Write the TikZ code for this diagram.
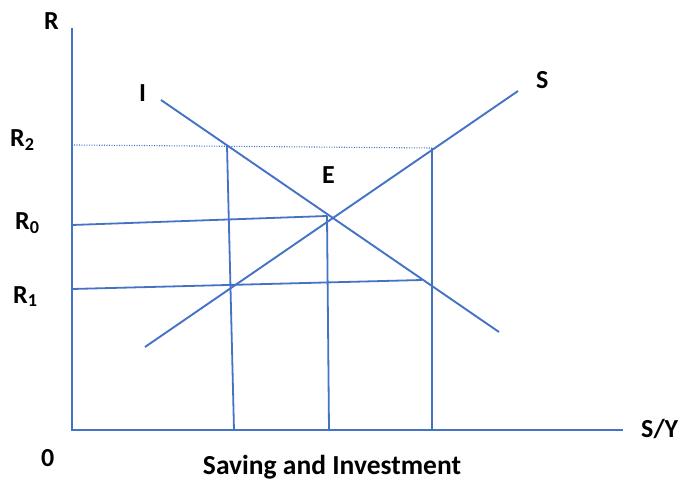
\documentclass[tikz,border=0pt]{standalone}
\usepackage{fontspec}
\setmainfont{Carlito}
\definecolor{lineblue}{RGB}{68,114,196}
\begin{document}
\begin{tikzpicture}[x=1pt,y=-1pt,
  curve/.style={draw=lineblue,line width=1.9pt},
  guide/.style={draw=lineblue,line width=1.8pt},
  dotguide/.style={draw=lineblue,line width=1.1pt,dash pattern=on 1pt off 1.5pt},
  lbl/.style={inner sep=0pt,anchor=base west,font=\bfseries\fontsize{26}{30}\selectfont},
  ttl/.style={inner sep=0pt,anchor=base,font=\bfseries\fontsize{27.5}{32}\selectfont}]
\useasboundingbox (0,0) rectangle (683,481);
% axes points
\coordinate (ytop) at (72,28);
\coordinate (orig) at (72,430);
\coordinate (xend) at (623,430);
% curve endpoints
\coordinate (Istart) at (161,100);
\coordinate (Iend) at (499,332);
\coordinate (Sstart) at (145,347);
\coordinate (Send) at (518,91);
% guide points
\coordinate (r2l) at (74,145);
\coordinate (r2r) at (432,148);
\coordinate (r0l) at (72,225);
\coordinate (r0r) at (327,216);
\coordinate (r1l) at (72,289);
\coordinate (r1r) at (422,280);
\coordinate (v1t) at (227,146);
\coordinate (v1b) at (234,430);
\coordinate (v2t) at (327,216);
\coordinate (v2b) at (329,430);
\coordinate (v3t) at (432,148);
\coordinate (v3b) at (432,430);
% axes
\draw[curve] (ytop) -- (orig) -- (xend);
% I and S
\draw[curve] (Istart) -- (Iend);
\draw[curve] (Sstart) -- (Send);
% guides
\draw[dotguide] (r2l) -- (r2r);
\draw[guide] (r0l) -- (r0r);
\draw[guide] (r1l) -- (r1r);
\draw[guide] (v1t) -- (v1b);
\draw[guide] (v2t) -- (v2b);
\draw[guide] (v3t) -- (v3b);
% labels
\node[lbl] (lR) at (44,30) {R};
\node[lbl] (lI) at (139,102) {I};
\node[lbl] (lS) at (536,89) {S};
\node[lbl] (lE) at (322,184) {E};
\node[lbl] (lR2) at (10,147) {R\textsubscript{2}};
\node[lbl] (lR0) at (15,230) {R\textsubscript{0}};
\node[lbl] (lR1) at (13,303) {R\textsubscript{1}};
\node[lbl] (l0) at (41,466) {0};
\node[lbl] (lSY) at (641,437) {S/Y};
\node[ttl] (title) at (332,474) {Saving and Investment};
\end{tikzpicture}
\end{document}
